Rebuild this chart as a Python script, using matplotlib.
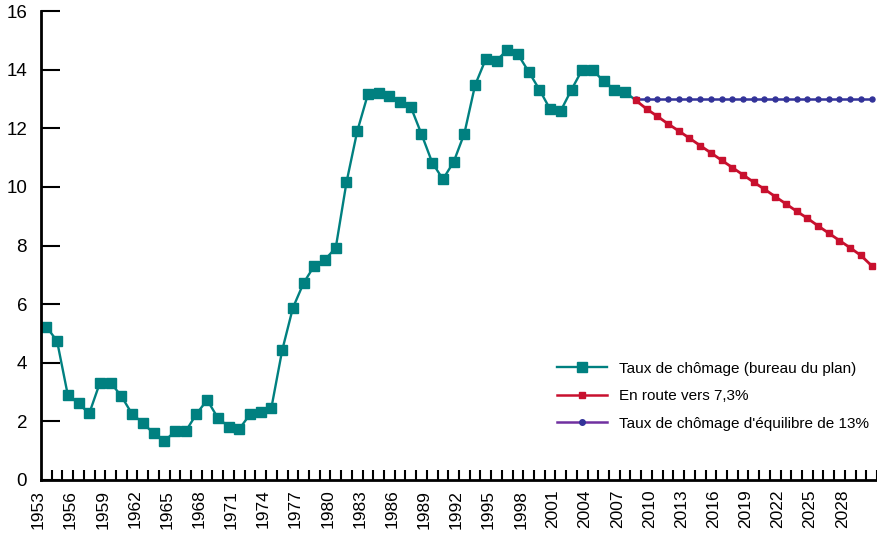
import numpy as np
import matplotlib
matplotlib.use('Agg')
import matplotlib.pyplot as plt
from matplotlib.lines import Line2D
from matplotlib.transforms import ScaledTranslation

plt.rcParams['font.family'] = ['Liberation Sans', 'DejaVu Sans']

# taux de chomage observe + projection bureau du plan
years_hist = list(range(1953, 2009))
chomage = [5.23, 4.74, 2.90, 2.61, 2.27, 3.32, 3.32, 2.86, 2.25, 1.95,
           1.59, 1.32, 1.66, 1.66, 2.25, 2.73, 2.12, 1.82, 1.74, 2.24,
           2.32, 2.47, 4.42, 5.87, 6.72, 7.31, 7.52, 7.92, 10.15, 11.89,
           13.16, 13.21, 13.10, 12.88, 12.73, 11.80, 10.83, 10.26, 10.85, 11.82,
           13.47, 14.36, 14.31, 14.67, 14.52, 13.93, 13.32, 12.65, 12.60, 13.32,
           14.00, 13.98, 13.60, 13.32, 13.24, 12.95]

years_proj = list(range(2008, 2031))
en_route = [12.95, 12.66, 12.41, 12.15, 11.91, 11.66, 11.41, 11.16, 10.91, 10.66,
            10.41, 10.16, 9.92, 9.67, 9.42, 9.17, 8.93, 8.67, 8.42, 8.17,
            7.92, 7.66, 7.31]
equilibre = [13.0] * len(years_proj)

labels = ['Taux de chômage (bureau du plan)', 'En route vers 7,3%',
          "Taux de chômage d'équilibre de 13%"]

teal = '#008080'
red = '#C8102E'
navy = '#333399'
purple = '#7030A0'

fig = plt.figure(figsize=(8.77, 5.35), dpi=100)
ax = fig.add_axes([41 / 877, 1 - 480 / 535, 836 / 877, 469 / 535])

ax.plot(years_hist, chomage, color=teal, lw=1.7, marker='s', ms=6.5,
        markevery=list(range(len(years_hist) - 1)), zorder=2)
ax.plot(years_proj, equilibre, color=navy, lw=1.8, marker='o', ms=3.6, zorder=3)
ax.plot(years_proj, en_route, color=red, lw=2.0, marker='s', ms=3.8, zorder=4)

ax.set_xlim(1952.5, 2030.5)
ax.set_ylim(0, 16)

for s in ['top', 'right']:
    ax.spines[s].set_visible(False)
for s in ['left', 'bottom']:
    ax.spines[s].set_linewidth(2.0)

ax.set_yticks(range(0, 17, 2))
ax.tick_params(axis='y', direction='in', length=14, width=1.5, pad=10, labelsize=13.5)

ax.set_xticks(range(1953, 2031, 3))
ax.set_xticklabels([str(y) for y in range(1953, 2031, 3)], rotation=90,
                   va='top', ha='center')
ax.set_xticks(np.arange(1953.5, 2031, 1), minor=True)
ax.tick_params(axis='x', which='major', length=0, pad=7, labelsize=12.5)
ax.tick_params(axis='x', which='minor', direction='in', length=7, width=1.5)
off = ScaledTranslation(-8 / 100, 0, fig.dpi_scale_trans)
for lab in ax.get_xticklabels():
    lab.set_transform(lab.get_transform() + off)

handles = [
    Line2D([], [], color=teal, lw=1.7, marker='s', ms=7),
    Line2D([], [], color=red, lw=1.8, marker='s', ms=3.8),
    Line2D([], [], color=purple, lw=1.8, marker='o', ms=4,
           markerfacecolor=navy, markeredgecolor=navy),
]
ax.legend(handles, labels, loc='upper left', bbox_to_anchor=(0.617, 0.252),
          frameon=False, fontsize=11, handlelength=3.27, handletextpad=0.78,
          labelspacing=0.88, borderaxespad=0, borderpad=0)

fig.savefig('out.png', dpi=100)
